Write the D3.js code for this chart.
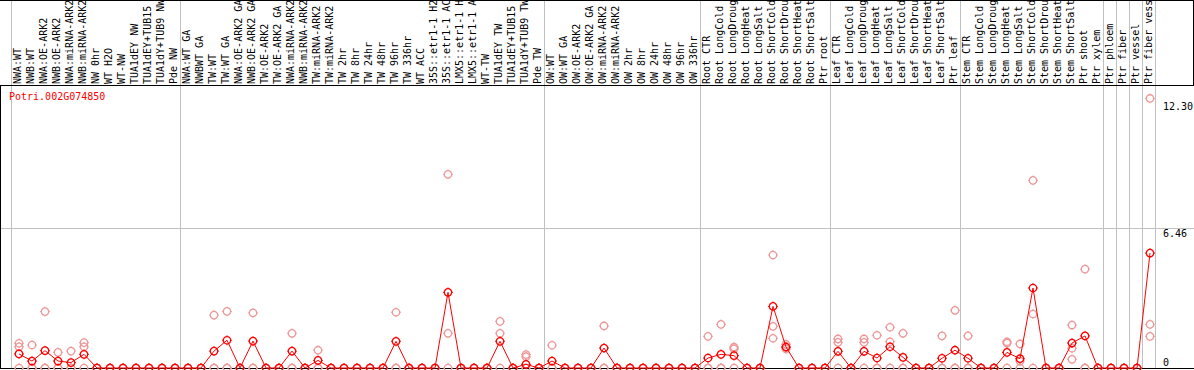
<!DOCTYPE html>
<html>
<head>
<meta charset="utf-8">
<script src="https://cdn.jsdelivr.net/npm/d3@7"></script>
<style>
  body { margin: 0; background: #ffffff; }
  svg { display: block; }
  text { font-family: "DejaVu Sans Mono", monospace; font-size: 10px; }
</style>
</head>
<body>
<svg id="chart" width="1194" height="370"></svg>
<script>

const gene_name = 'Potri.002G074850';

const labels = [
	'NWA:WT','NWB:WT','NWA:OE-ARK2','NWB:OE-ARK2','NWA:miRNA-ARK2','NWB:miRNA-ARK2','NW 0hr','WT H2O',
	'WT-NW','TUA1dEY NW','TUA1dEY+TUB15 NW','TUA1dY+TUB9 NW','Pde NW',
	'NWA:WT GA','NWBWT GA','TW:WT','TW:WT GA','NWA:OE-ARK2 GA','NWB:OE-ARK2 GA','TW:OE-ARK2','TW:OE-ARK2 GA',
	'NWA:miRNA-ARK2','NWB:miRNA-ARK2','TW:miRNA-ARK2','TW:miRNA-ARK2','TW 2hr','TW 8hr','TW 24hr','TW 48hr',
	'TW 96hr','TW 336hr','WT ACC','35S::etr1-1 H2O','35S::etr1-1 ACC','LMX5::etr1-1 H2O','LMX5::etr1-1 ACC',
	'WT-TW','TUA1dEY TW','TUA1dEY+TUB15 TW','TUA1dY+TUB9 TW','Pde TW',
	'OW:WT','OW:WT GA','OW:OE-ARK2','OW:OE-ARK2 GA','OW:miRNA-ARK2','OW:miRNA-ARK2','OW 2hr','OW 8hr',
	'OW 24hr','OW 48hr','OW 96hr','OW 336hr',
	'Root CTR','Root LongCold','Root LongDrought','Root LongHeat','Root LongSalt','Root ShortCold',
	'Root ShortDrought','Root ShortHeat','Root ShortSalt','Ptr root',
	'Leaf CTR','Leaf LongCold','Leaf LongDrought','Leaf LongHeat','Leaf LongSalt','Leaf ShortCold',
	'Leaf ShortDrought','Leaf ShortHeat','Leaf ShortSalt','Ptr leaf',
	'Stem CTR','Stem LongCold','Stem LongDrought','Stem LongHeat','Stem LongSalt','Stem ShortCold',
	'Stem ShortDrought','Stem ShortHeat','Stem ShortSalt','Ptr shoot','Ptr xylem',
	'Ptr phloem','Ptr fiber','Ptr vessel','Ptr fiber vessel'
];

// column index where each group starts (plus the end)
const group_breaks = [0, 13, 41, 53, 63, 73, 84, 85, 86, 87, 88];

const means = [
	0.65, 0.32, 0.80, 0.32, 0.25, 0.63, 0, 0, 0, 0, 0, 0, 0,
	0, 0, 0.78, 1.28, 0, 1.24, 0, 0, 0.78, 0, 0.35, 0, 0, 0, 0, 0,
	1.23, 0, 0, 0, 3.49, 0, 0, 0, 1.23, 0, 0.17, 0,
	0.32, 0, 0, 0, 0.92, 0, 0, 0, 0, 0, 0, 0,
	0.46, 0.63, 0.57, 0, 0, 2.84, 0.97, 0, 0, 0,
	0.77, 0, 0.77, 0.46, 0.98, 0.49, 0, 0, 0.45, 0.82,
	0.45, 0, 0, 0.72, 0.43, 3.69, 0, 0, 1.15, 1.48, 0,
	0, 0, 0, 5.30
];

const replicates = [
	[1.14,0.98,0],[1.06,0,0],[2.60,0,0],[0.72,0,0],[0.78,0,0],[1.17,0.98,0],[0,0,0],[0,0,0],
	[0,0,0],[0,0,0],[0,0,0],[0,0,0],[0,0,0],
	[0,0,0],[0,0,0],[2.44,0,0],[2.61,0,0],[0,0,0],[2.54,0,0],[0,0,0],[0,0,0],
	[1.60,0,0],[0,0,0],[0.82,0,0],[0,0,0],[0,0,0],[0,0,0],[0,0,0],[0,0,0],
	[2.57,0,0],[0,0,0],[0,0,0],[0,0,0],[8.93,1.60,0],[0,0,0],[0,0,0],
	[0,0,0],[2.15,1.60,0],[0,0,0],[0.62,0.52,0],[0,0,0],
	[1.05,0,0],[0,0,0],[0,0,0],[0,0,0],[1.94,0,0],[0,0,0],[0,0,0],[0,0,0],
	[0,0,0],[0,0,0],[0,0,0],[0,0,0],
	[1.46,0,0],[2.01,0,0],[0.96,0.88,0],[0,0,0],[0,0,0],[5.21,1.92,1.37],
	[1.09,0.94,0.88],[0,0,0],[0,0,0],[0,0,0],
	[1.34,1.18,0],[0,0,0],[1.34,1.18,0],[1.51,0,0],[1.88,1.21,0],[1.60,0,0],
	[0,0,0],[0,0,0],[1.48,0,0],[2.66,0,0],
	[1.48,0,0],[0,0,0],[0,0,0],[1.21,1.15,0],[1.11,0.32,0],[8.65,2.49,0],
	[0,0,0],[0,0,0],[1.98,0.91,0.40],[4.56,0,0],[0,0,0],
	[0,0,0],[0,0,0],[0,0,0],[12.43,2.01,1.46]
];

const y_ticks = [12.30, 6.46, 0];

const width = 1194, header_h = 85, base_y = 368;
const svg = d3.select('#chart');

const x = d3.scaleBand()
	.domain(d3.range(labels.length))
	.range([11, 1155]);

const y = d3.scaleLinear()
	.domain([0, 13.05])
	.range([base_y, header_h]);

const marker_x = i => x(i) + 8;

// grid: group dividers and mid line
svg.append('g').selectAll('line')
		.data(group_breaks)
		.enter()
	.append('line')
		.attr('x1', d => Math.round(d < labels.length ? x(d) : x.range()[1]) + 0.5)
		.attr('x2', d => Math.round(d < labels.length ? x(d) : x.range()[1]) + 0.5)
		.attr('y1', 0)
		.attr('y2', base_y)
		.attr('stroke', '#c0c0c0')
		.attr('stroke-width', 1);

svg.append('line')
	.attr('x1', 0).attr('x2', width)
	.attr('y1', Math.round(y(6.46)) + 0.5).attr('y2', Math.round(y(6.46)) + 0.5)
	.attr('stroke', '#c0c0c0');

// frame lines
const frame = [
	[0, header_h + 0.5, width, header_h + 0.5],
	[0, base_y + 0.5, width, base_y + 0.5],
	[0.5, header_h, 0.5, base_y + 1],
	[width - 0.5, 0, width - 0.5, header_h],
	[0, 0.5, width, 0.5]
];
svg.append('g').selectAll('line')
		.data(frame)
		.enter()
	.append('line')
		.attr('x1', d => d[0]).attr('y1', d => d[1])
		.attr('x2', d => d[2]).attr('y2', d => d[3])
		.attr('stroke', '#000000');

// rotated column labels (long ones run off the top, as in the source)
svg.append('g').selectAll('text')
		.data(labels)
		.enter()
	.append('text')
		.attr('transform', (d, i) => `translate(${x(i) + 10},84) rotate(-90)`)
		.attr('fill', '#000000')
		.text(d => d);

// y labels on the right
svg.append('g').selectAll('text')
		.data(y_ticks)
		.enter()
	.append('text')
		.attr('x', 1163)
		.attr('y', d => d === 0 ? y(d) - 2 : y(d) + 9)
		.attr('fill', '#000000')
		.text(d => d === 0 ? '0' : d.toFixed(2));

svg.append('text')
	.attr('x', 9)
	.attr('y', 100)
	.attr('fill', '#ff0000')
	.text(gene_name);

// circle with the little compass ticks
const draw_marker = function(sel, colour){
	sel.append('circle')
		.attr('r', 3.7)
		.attr('fill', 'none')
		.attr('stroke', colour)
		.attr('stroke-width', 1.3);
	sel.append('path')
		.attr('d', 'M0,-4.9V-3.7M0,3.7V4.9M-4.9,0H-3.7M3.7,0H4.9')
		.attr('stroke', colour)
		.attr('stroke-width', 1);
};

// replicates
const rep_points = [];
replicates.forEach((r, i) => r.forEach(v => rep_points.push([i, v])));

svg.append('g').selectAll('g')
		.data(rep_points)
		.enter()
	.append('g')
		.attr('transform', d => `translate(${marker_x(d[0])},${y(d[1])})`)
		.each(function(){ draw_marker(d3.select(this), '#ee9999') });

// mean line
const line = d3.line()
	.x((d, i) => marker_x(i))
	.y(d => y(d));

svg.append('path')
	.attr('d', line(means))
	.attr('fill', 'none')
	.attr('stroke', '#ff0000')
	.attr('stroke-width', 1);

svg.append('g').selectAll('g')
		.data(means)
		.enter()
	.append('g')
		.attr('transform', (d, i) => `translate(${marker_x(i)},${y(d)})`)
		.each(function(){ draw_marker(d3.select(this), '#ff0000') });

</script>
</body>
</html>
